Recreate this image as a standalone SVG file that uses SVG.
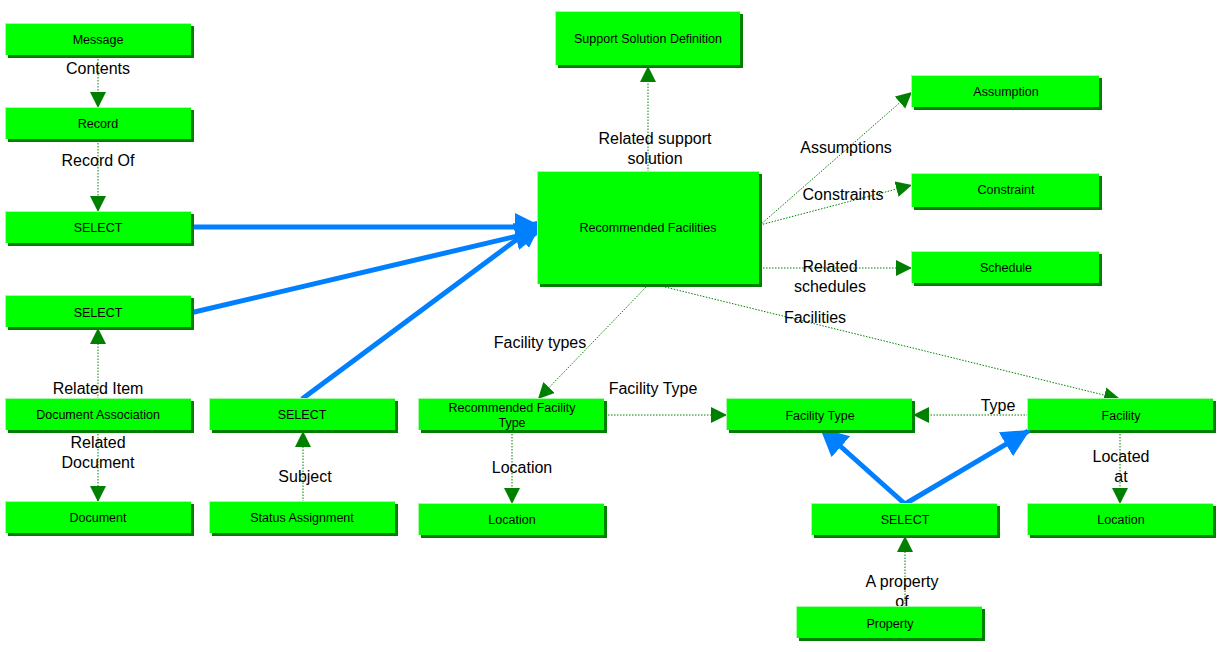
<svg xmlns="http://www.w3.org/2000/svg" width="1221" height="652" viewBox="0 0 1221 652">
<style>
.n rect.s{fill:#008000}
.n rect.h{fill:#a8f8a8}
.n rect.b{fill:#00ff00}
.n text{font-family:"Liberation Sans",Arial,sans-serif;font-size:12.5px;text-anchor:middle;fill:#000}
.c path.g{stroke:#008000;stroke-width:1;stroke-dasharray:1.5 1.5;fill:none;marker-end:url(#ga)}
.c path.bl{stroke:#0080ff;stroke-width:5;fill:none;marker-end:url(#ba)}
.c text{font-family:"Liberation Sans",Arial,sans-serif;font-size:16px;text-anchor:middle;fill:#000}
</style>
<defs>
<marker id="ga" markerUnits="userSpaceOnUse" markerWidth="20" markerHeight="20" refX="16" refY="8" orient="auto"><path d="M0,0 L16,8 L0,16 Z" fill="#008000"/></marker>
<marker id="ba" markerUnits="userSpaceOnUse" markerWidth="34" markerHeight="34" refX="28" refY="14" orient="auto"><path d="M0,0 L28,14 L0,28 Z" fill="#0080ff"/></marker>
</defs>
<g class="c">
<path class="g" d="M98,56 V108"/><text x="98" y="74">Contents</text>
<path class="g" d="M98,140 V212"/><text x="98" y="166">Record Of</text>
<path class="g" d="M98,399 V328"/><text x="98" y="394">Related Item</text>
<path class="g" d="M98,431 V502"/><text x="98" y="448">Related</text><text x="98" y="468">Document</text>
<path class="g" d="M303,502 V431"/><text x="305" y="482">Subject</text>
<path class="g" d="M648,172 V66"/><text x="655" y="144">Related support</text><text x="655" y="164">solution</text>
<path class="g" d="M760,225 L912,92"/><text x="846" y="153">Assumptions</text>
<path class="g" d="M760,225 L912,185"/><text x="843" y="200">Constraints</text>
<path class="g" d="M760,268 H912"/><text x="830" y="272">Related</text><text x="830" y="292">schedules</text>
<path class="g" d="M648,285 L538,399"/><text x="540" y="348">Facility types</text>
<path class="g" d="M665,287 L1120,399"/><text x="815" y="323">Facilities</text>
<path class="g" d="M605,415 H727"/><text x="653" y="394">Facility Type</text>
<path class="g" d="M1028,415 H913"/><text x="998" y="411">Type</text>
<path class="g" d="M512,431 V504"/><text x="522" y="473">Location</text>
<path class="g" d="M1120,431 V504"/><text x="1121" y="462">Located</text><text x="1121" y="482">at</text>
<path class="g" d="M905,607 V536"/><text x="902" y="587">A property</text><text x="902" y="607">of</text>
<path class="bl" d="M190,227 H543"/>
<path class="bl" d="M190,313 L543,230"/>
<path class="bl" d="M302,399 L543,220"/>
<path class="bl" d="M905,504 L820,428"/>
<path class="bl" d="M905,504 L1030,430"/>
</g>
<g class="n" id="message"><rect class="s" x="8" y="26" width="186" height="32"/><rect class="h" x="5" y="23" width="186" height="32"/><rect class="b" x="6" y="24" width="185" height="31"/><text x="98" y="44">Message</text></g>
<g class="n" id="record"><rect class="s" x="8" y="110" width="186" height="32"/><rect class="h" x="5" y="107" width="186" height="32"/><rect class="b" x="6" y="108" width="185" height="31"/><text x="98" y="128">Record</text></g>
<g class="n" id="select1"><rect class="s" x="8" y="214" width="186" height="32"/><rect class="h" x="5" y="211" width="186" height="32"/><rect class="b" x="6" y="212" width="185" height="31"/><text x="98" y="232">SELECT</text></g>
<g class="n" id="select2"><rect class="s" x="8" y="298" width="186" height="32"/><rect class="h" x="5" y="295" width="186" height="32"/><rect class="b" x="6" y="296" width="185" height="31"/><text x="98" y="317">SELECT</text></g>
<g class="n" id="docassoc"><rect class="s" x="8" y="401" width="186" height="32"/><rect class="h" x="5" y="398" width="186" height="32"/><rect class="b" x="6" y="399" width="185" height="31"/><text x="98" y="419">Document Association</text></g>
<g class="n" id="document"><rect class="s" x="8" y="504" width="186" height="32"/><rect class="h" x="5" y="501" width="186" height="32"/><rect class="b" x="6" y="502" width="185" height="31"/><text x="98" y="522">Document</text></g>
<g class="n" id="select3"><rect class="s" x="212" y="401" width="186" height="32"/><rect class="h" x="209" y="398" width="186" height="32"/><rect class="b" x="210" y="399" width="185" height="31"/><text x="302" y="419">SELECT</text></g>
<g class="n" id="status"><rect class="s" x="212" y="504" width="186" height="32"/><rect class="h" x="209" y="501" width="186" height="32"/><rect class="b" x="210" y="502" width="185" height="31"/><text x="302" y="522">Status Assignment</text></g>
<g class="n" id="ssd"><rect class="s" x="558" y="14" width="185" height="54"/><rect class="h" x="555" y="11" width="185" height="54"/><rect class="b" x="556" y="12" width="184" height="53"/><text x="648" y="43">Support Solution Definition</text></g>
<g class="n" id="recfac"><rect class="s" x="540" y="174" width="222" height="113"/><rect class="h" x="537" y="171" width="222" height="113"/><rect class="b" x="538" y="172" width="221" height="112"/><text x="648" y="232">Recommended Facilities</text></g>
<g class="n" id="assumption"><rect class="s" x="914" y="78" width="188" height="32"/><rect class="h" x="911" y="75" width="188" height="32"/><rect class="b" x="912" y="76" width="187" height="31"/><text x="1006" y="96">Assumption</text></g>
<g class="n" id="constraint"><rect class="s" x="914" y="176" width="188" height="34"/><rect class="h" x="911" y="173" width="188" height="34"/><rect class="b" x="912" y="174" width="187" height="33"/><text x="1006" y="194">Constraint</text></g>
<g class="n" id="schedule"><rect class="s" x="914" y="254" width="188" height="32"/><rect class="h" x="911" y="251" width="188" height="32"/><rect class="b" x="912" y="252" width="187" height="31"/><text x="1006" y="272">Schedule</text></g>
<g class="n" id="recfactype"><rect class="s" x="421" y="401" width="186" height="32"/><rect class="h" x="418" y="398" width="186" height="32"/><rect class="b" x="419" y="399" width="185" height="31"/><text x="512" y="412">Recommended Facility</text><text x="512" y="427">Type</text></g>
<g class="n" id="location1"><rect class="s" x="421" y="506" width="186" height="32"/><rect class="h" x="418" y="503" width="186" height="32"/><rect class="b" x="419" y="504" width="185" height="31"/><text x="512" y="524">Location</text></g>
<g class="n" id="facilitytype"><rect class="s" x="729" y="401" width="186" height="32"/><rect class="h" x="726" y="398" width="186" height="32"/><rect class="b" x="727" y="399" width="185" height="31"/><text x="820" y="420">Facility Type</text></g>
<g class="n" id="facility"><rect class="s" x="1030" y="401" width="186" height="32"/><rect class="h" x="1027" y="398" width="186" height="32"/><rect class="b" x="1028" y="399" width="185" height="31"/><text x="1121" y="420">Facility</text></g>
<g class="n" id="select4"><rect class="s" x="814" y="506" width="186" height="32"/><rect class="h" x="811" y="503" width="186" height="32"/><rect class="b" x="812" y="504" width="185" height="31"/><text x="905" y="524">SELECT</text></g>
<g class="n" id="location2"><rect class="s" x="1030" y="506" width="186" height="32"/><rect class="h" x="1027" y="503" width="186" height="32"/><rect class="b" x="1028" y="504" width="185" height="31"/><text x="1121" y="524">Location</text></g>
<g class="n" id="property"><rect class="s" x="799" y="609" width="186" height="32"/><rect class="h" x="796" y="606" width="186" height="32"/><rect class="b" x="797" y="607" width="185" height="31"/><text x="890" y="628">Property</text></g>
</svg>
